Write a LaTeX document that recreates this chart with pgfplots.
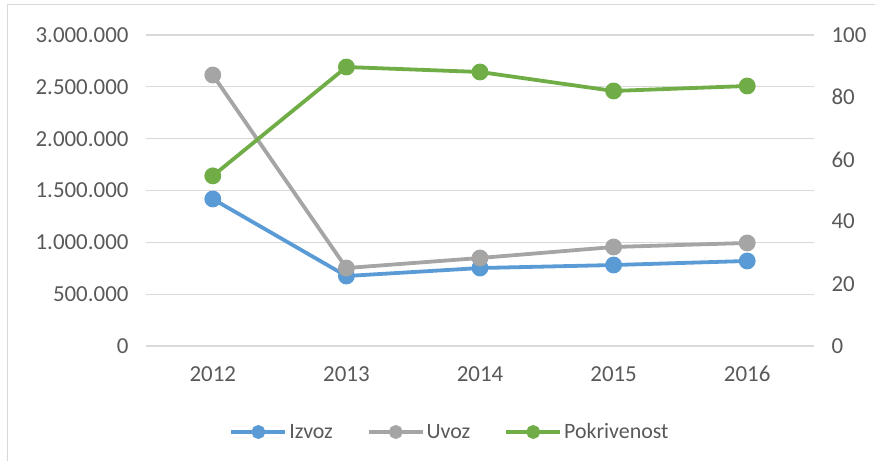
\documentclass[border=0pt]{standalone}
\usepackage{fontspec}
\setmainfont{Carlito}
\usepackage{pgfplots}
\pgfplotsset{compat=1.18}
\definecolor{cIzvoz}{HTML}{5B9BD5}
\definecolor{cUvoz}{HTML}{A5A5A5}
\definecolor{cPok}{HTML}{70AD47}
\definecolor{cGrid}{HTML}{D9D9D9}
\definecolor{cText}{HTML}{595959}
\begin{document}
\begin{tikzpicture}[x=1bp,y=1bp]
\useasboundingbox (0,0) rectangle (875,461);
\draw[cGrid, line width=1.5bp] (7.5,-5) -- (7.5,456.5) -- (880,456.5);
\pgfplotsset{
  every axis/.append style={
    scale only axis, width=668bp, height=311bp,
    xmin=-0.5, xmax=4.5, ymin=0,
    xtick={0,1,2,3,4}, xticklabels={2012,2013,2014,2015,2016},
    major tick length=0pt,
    tick label style={font=\fontsize{23}{26}\selectfont, text=cText},
    /pgf/number format/assume math mode=true,
  },
  lstyle/.style={line width=3.8bp, mark=*, mark size=6.5bp, mark options={solid}},
  legstyle/.style={line width=3.8bp, mark=*, mark size=5bp, mark options={solid}},
}
\begin{axis}[at={(146bp,115bp)}, anchor=south west,
  ymax=3000000, ytick={0,500000,1000000,1500000,2000000,2500000,3000000},
  scaled y ticks=false,
  yticklabel={\pgfmathprintnumber[fixed,1000 sep={.},precision=0]{\tick}},
  yticklabel style={xshift=-14bp},
  xticklabel style={yshift=-17bp},
  axis line style={draw=none},
  ymajorgrids, grid style={cGrid, line width=1.2bp},
  clip=false]
\addplot[lstyle, color=cIzvoz] coordinates {(0,1418000) (1,675000) (2,752000) (3,781000) (4,820000)};
\addplot[lstyle, color=cUvoz] coordinates {(0,2614000) (1,752000) (2,849000) (3,955000) (4,994000)};
\end{axis}
\begin{axis}[at={(146bp,115bp)}, anchor=south west,
  ymax=100, ytick={0,20,40,60,80,100},
  axis y line*=right, axis x line=none,
  axis line style={draw=none},
  yticklabel style={xshift=14bp},
  clip=false,
  legend style={at={(450bp-146bp,29bp-115bp)}, anchor=center, draw=none, fill=none,
    legend columns=3, font=\fontsize{22}{25}\selectfont, text=cText,
    /tikz/every even column/.append style={column sep=32bp}},
  legend cell align=left,
  legend image code/.code={\draw[#1, mark repeat=2, mark phase=2] plot coordinates {(0bp,0bp) (27bp,0bp) (54bp,0bp)};}
  ]
\addlegendimage{legstyle, color=cIzvoz}
\addlegendentry{Izvoz}
\addlegendimage{legstyle, color=cUvoz}
\addlegendentry{Uvoz}
\addplot[lstyle, color=cPok, forget plot] coordinates {(0,54.7) (1,89.7) (2,88.1) (3,82.0) (4,83.6)};
\addlegendimage{legstyle, color=cPok}
\addlegendentry{Pokrivenost}
\end{axis}
\end{tikzpicture}
\end{document}
